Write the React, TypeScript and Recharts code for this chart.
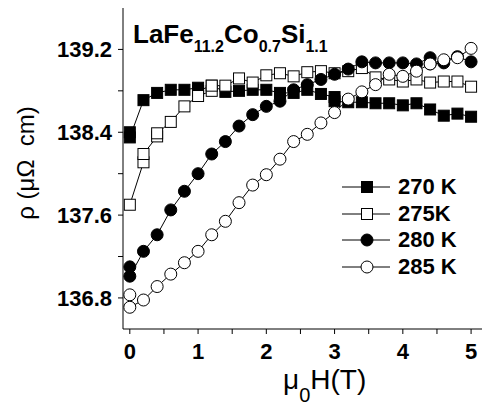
import { LineChart, Line, XAxis, YAxis } from "recharts";

const FONT = "'Liberation Sans', Arial, Helvetica, sans-serif";

// magnetic field, T
const FIELD = [
    0, 0.2, 0.4, 0.6, 0.8, 1.0, 1.2, 1.4, 1.6, 1.8, 2.0, 2.2, 2.4, 2.6, 2.8,
    3.0, 3.2, 3.4, 3.6, 3.8, 4.0, 4.2, 4.4, 4.6, 4.8, 5.0,
];

// resistivity, µΩ cm
const RHO_270 = [
    138.4, 138.71, 138.78, 138.81, 138.81, 138.83, 138.85, 138.79, 138.8,
    138.81, 138.81, 138.78, 138.78, 138.81, 138.77, 138.74, 138.69, 138.69,
    138.68, 138.68, 138.66, 138.68, 138.62, 138.56, 138.58, 138.55,
];
const RHO_275 = [
    137.7, 138.11, 138.36, 138.5, 138.65, 138.75, 138.8, 138.85, 138.92,
    138.88, 138.95, 138.97, 138.94, 138.98, 138.99, 138.97, 138.99, 139.02,
    138.93, 138.91, 138.89, 138.91, 138.88, 138.89, 138.89, 138.84,
];
const RHO_280 = [
    137.1, 137.25, 137.41, 137.65, 137.83, 138.0, 138.19, 138.31, 138.46,
    138.57, 138.65, 138.7, 138.81, 138.86, 138.91, 138.96, 139.01, 139.08,
    139.07, 139.07, 139.07, 139.06, 139.12, 139.07, 139.13, 139.08,
];
const RHO_285 = [
    136.83, 136.78, 136.91, 137.03, 137.14, 137.25, 137.41, 137.54, 137.72,
    137.89, 137.99, 138.14, 138.31, 138.38, 138.49, 138.59, 138.72, 138.79,
    138.86, 138.96, 138.94, 138.99, 139.06, 139.1, 139.12, 139.21,
];

// second-sweep points that do not sit on the first one: [H, rho]
const EXTRA_270 = [[0, 138.35], [1.0, 138.8], [3.0, 138.7]];
const EXTRA_275 = [[0.2, 138.19], [0.4, 138.39], [1.2, 138.85]];
const EXTRA_280 = [[0, 137.01], [4.4, 139.06]];
const EXTRA_285 = [[0, 136.71]];

const X_TICKS = [0, 0.5, 1, 1.5, 2, 2.5, 3, 3.5, 4, 4.5, 5];
const Y_TICKS = [136.8, 137.2, 137.6, 138.0, 138.4, 138.8, 139.2];

const LABELS = ["270 K", "275K", "280 K", "285 K"];

function toPoints(values: number[], extra: number[][]) {
    const pts = FIELD.map((h, i) => ({ h, r: values[i] }));
    extra.forEach(([h, r]) => pts.push({ h, r }));
    return pts.sort((a, b) => a.h - b.h);
}

const SERIES = [
    { name: LABELS[0], data: toPoints(RHO_270, EXTRA_270), shape: "square", fill: "#000" },
    { name: LABELS[1], data: toPoints(RHO_275, EXTRA_275), shape: "square", fill: "#fff" },
    { name: LABELS[2], data: toPoints(RHO_280, EXTRA_280), shape: "circle", fill: "#000" },
    { name: LABELS[3], data: toPoints(RHO_285, EXTRA_285), shape: "circle", fill: "#fff" },
];

const squareDot = (fill: string) => (props: any) => {
    const { cx, cy, index } = props;
    if (cx == null || cy == null) return <g key={index} />;
    return (
        <rect
            key={index}
            x={cx - 5.5}
            y={cy - 5.5}
            width={11}
            height={11}
            fill={fill}
            stroke="#000"
            strokeWidth={1}
        />
    );
};

function LegendBox() {
    return (
        <div style={{ position: "absolute", left: 342, top: 174 }}>
            {SERIES.map((s, i) => (
                <div
                    key={s.name}
                    style={{ display: "flex", alignItems: "center", height: 26.5 }}
                >
                    <svg width={48} height={14}>
                        <line x1={0} y1={7} x2={48} y2={7} stroke="#000" strokeWidth={1} />
                        {s.shape === "square" ? (
                            <rect x={19.5} y={1.5} width={11} height={11} fill={s.fill} stroke="#000" />
                        ) : (
                            <circle cx={25} cy={7} r={6} fill={s.fill} stroke="#000" />
                        )}
                    </svg>
                    <span
                        style={{
                            marginLeft: 8,
                            fontFamily: FONT,
                            fontWeight: 700,
                            fontSize: 22,
                            lineHeight: 1,
                        }}
                    >
                        {LABELS[i]}
                    </span>
                </div>
            ))}
        </div>
    );
}

export default function App() {
    const tickStyle = { fill: "#000", fontSize: 22, fontWeight: 700, fontFamily: FONT };
    return (
        <div
            style={{
                position: "absolute",
                left: 0,
                top: 0,
                width: 483,
                height: 410,
                background: "#fff",
                overflow: "hidden",
            }}
        >
            <LineChart
                width={483}
                height={410}
                margin={{ top: 8, right: 1, bottom: 0, left: 0 }}
            >
                <XAxis
                    xAxisId="b"
                    type="number"
                    dataKey="h"
                    domain={[-0.1, 5.16]}
                    allowDataOverflow
                    ticks={X_TICKS}
                    tickFormatter={(v: number) => (Number.isInteger(v) ? String(v) : "")}
                    tick={tickStyle}
                    tickSize={5}
                    tickMargin={9}
                    height={81}
                    stroke="#000"
                />
                <XAxis
                    xAxisId="t"
                    orientation="top"
                    type="number"
                    dataKey="h"
                    domain={[-0.1, 5.16]}
                    allowDataOverflow
                    ticks={X_TICKS}
                    tick={false}
                    mirror
                    height={0}
                    tickSize={5}
                    stroke="#000"
                />
                <YAxis
                    yAxisId="l"
                    type="number"
                    domain={[136.5, 139.6]}
                    allowDataOverflow
                    ticks={Y_TICKS}
                    tickFormatter={(v: number, i: number) => (i % 2 === 0 ? v.toFixed(1) : "")}
                    tick={tickStyle}
                    tickSize={5}
                    tickMargin={6}
                    width={123}
                    stroke="#000"
                />
                <YAxis
                    yAxisId="r"
                    orientation="right"
                    type="number"
                    domain={[136.5, 139.6]}
                    allowDataOverflow
                    ticks={Y_TICKS}
                    tick={false}
                    mirror
                    width={0}
                    tickSize={5}
                    stroke="#000"
                />
                {SERIES.map((s) => (
                    <Line
                        key={s.name}
                        xAxisId="b"
                        yAxisId="l"
                        data={s.data}
                        dataKey="r"
                        stroke="#000"
                        strokeWidth={1}
                        isAnimationActive={false}
                        dot={
                            s.shape === "square"
                                ? squareDot(s.fill)
                                : { r: 6, fill: s.fill, stroke: "#000", strokeWidth: 1 }
                        }
                        activeDot={false}
                    />
                ))}
            </LineChart>

            <div
                style={{
                    position: "absolute",
                    left: 133,
                    top: 21,
                    fontFamily: FONT,
                    fontWeight: 700,
                    fontSize: 26,
                    lineHeight: 1,
                    whiteSpace: "nowrap",
                }}
            >
                LaFe<span style={{ fontSize: 16, position: "relative", top: 9 }}>11.2</span>
                Co<span style={{ fontSize: 16, position: "relative", top: 9 }}>0.7</span>
                Si<span style={{ fontSize: 16, position: "relative", top: 9 }}>1.1</span>
            </div>

            <div
                style={{
                    position: "absolute",
                    left: 26,
                    top: 163,
                    transform: "translate(-50%, -50%) rotate(-90deg)",
                    fontFamily: FONT,
                    fontSize: 24,
                    lineHeight: 1,
                    whiteSpace: "nowrap",
                }}
            >
                {"ρ (μΩ\u00a0\u00a0cm)"}
            </div>

            <div
                style={{
                    position: "absolute",
                    left: 283,
                    top: 366,
                    fontFamily: FONT,
                    fontSize: 28,
                    lineHeight: 1,
                    whiteSpace: "nowrap",
                }}
            >
                μ<span style={{ fontSize: 20, position: "relative", top: 13 }}>0</span>H(T)
            </div>

            <LegendBox />
        </div>
    );
}
